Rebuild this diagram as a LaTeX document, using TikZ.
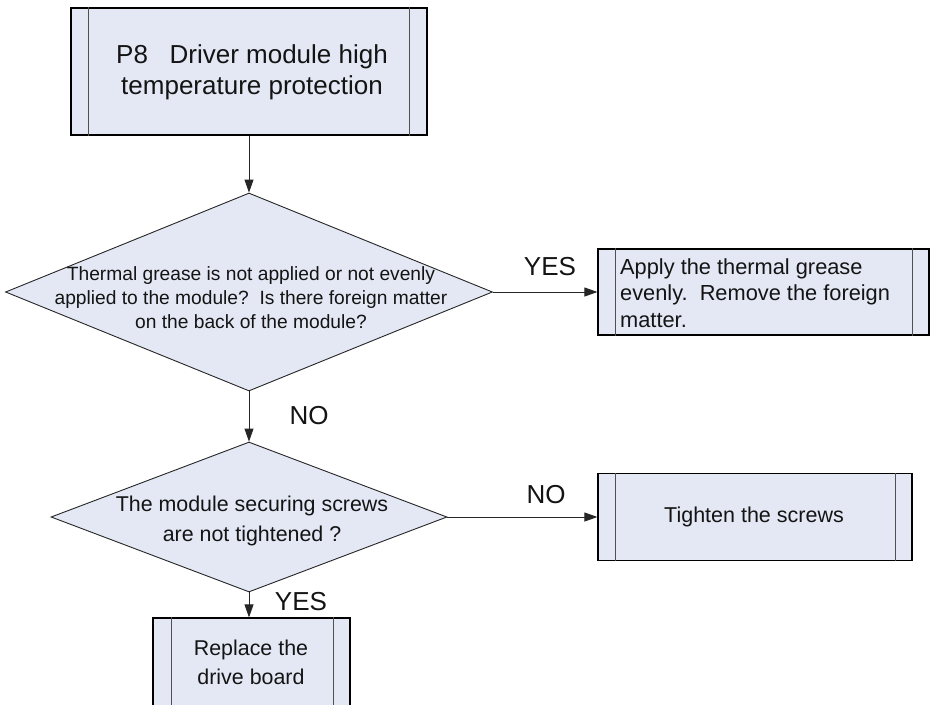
\documentclass[tikz,border=0pt]{standalone}
\usepackage{fontspec}
\setmainfont{Liberation Sans}
\usetikzlibrary{shapes.geometric,arrows.meta}
\definecolor{boxfill}{HTML}{E3E8F4}
\definecolor{innerline}{HTML}{505050}
\definecolor{ink}{HTML}{141414}
\tikzset{
 procbox/.style={draw=black, line width=1.2pt, fill=boxfill, rectangle, inner sep=0pt},
 decision/.style={draw=black!85, line width=0.9pt, fill=boxfill, diamond, inner sep=0pt},
 conn/.style={draw=black!85, line width=0.9pt, -{Triangle[length=13pt,width=9pt]}},
 innerbar/.style={draw=innerline, line width=0.9pt},
 lbl/.style={font=\fontsize{26}{30}\selectfont, inner sep=0pt, text=ink},
 txt/.style={align=center, inner sep=0pt, text=ink},
}
\begin{document}
\begin{tikzpicture}[x=1pt,y=-1pt]
\clip (0,0) rectangle (931,704);
\fill[white] (0,0) rectangle (931,704);
% boxes
\node[procbox, minimum width=356pt, minimum height=127pt] (b1) at (249,71.5) {};
\draw[innerbar] ([xshift=18pt]b1.north west) -- ([xshift=18pt]b1.south west);
\draw[innerbar] ([xshift=-18pt]b1.north east) -- ([xshift=-18pt]b1.south east);
\node[decision, minimum width=487pt, minimum height=198pt] (d1) at (249,292) {};
\node[procbox, minimum width=331pt, minimum height=86pt] (b2) at (763.5,292) {};
\draw[innerbar] ([xshift=18pt]b2.north west) -- ([xshift=18pt]b2.south west);
\draw[innerbar] ([xshift=-17pt]b2.north east) -- ([xshift=-17pt]b2.south east);
\node[decision, minimum width=396pt, minimum height=150pt] (d2) at (249,517) {};
\node[procbox, minimum width=314pt, minimum height=87pt] (b3) at (755,517) {};
\draw[innerbar] ([xshift=18pt]b3.north west) -- ([xshift=18pt]b3.south west);
\draw[innerbar] ([xshift=-17pt]b3.north east) -- ([xshift=-17pt]b3.south east);
\node[procbox, minimum width=197pt, minimum height=142pt] (b4) at (251.5,689) {};
\draw[innerbar] ([xshift=19pt]b4.north west) -- ([xshift=19pt]b4.south west);
\draw[innerbar] ([xshift=-17pt]b4.north east) -- ([xshift=-17pt]b4.south east);
% texts
\node[txt, font=\fontsize{26}{31}\selectfont] (t1) at (252,72) {P8\ \ \ Driver module high\\temperature protection};
\node[txt, font=\fontsize{19.2}{24}\selectfont] (t2) at (251,298) {Thermal grease is not applied or not evenly\\applied to the module?\ \ Is there foreign matter\\on the back of the module?};
\node[txt, align=left, anchor=west, font=\fontsize{21.8}{26.5}\selectfont] (t3) at (620,293) {Apply the thermal grease\\evenly.\ \ Remove the foreign\\matter.};
\node[txt, font=\fontsize{21.4}{30}\selectfont] (t4) at (252,521) {The module securing screws\\are not tightened ?};
\node[txt, font=\fontsize{21.5}{26}\selectfont] (t5) at (754,517) {Tighten the screws};
\node[txt, font=\fontsize{21.4}{29}\selectfont] (t6) at (251,662.5) {Replace the\\drive board};
% connectors
\draw[conn] (b1.south) -- (d1.north);
\draw[conn] (d1.east) -- (b2.west);
\draw[conn] (d1.south) -- (d2.north);
\draw[conn] (d2.east) -- (b3.west);
\draw[conn] (d2.south) -- (d2.south |- b4.north);
% labels
\node[lbl] (l1) at (550,267) {YES};
\node[lbl] (l2) at (309,416) {NO};
\node[lbl] (l3) at (546,495) {NO};
\node[lbl] (l4) at (301,602) {YES};
\end{tikzpicture}
\end{document}
